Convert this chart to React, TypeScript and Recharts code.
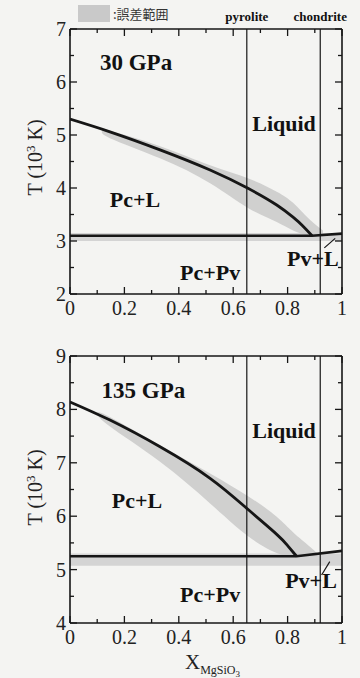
import React from 'react';
import {
  ComposedChart,
  Line,
  Area,
  XAxis,
  YAxis,
  ReferenceLine,
  ReferenceArea,
  ReferenceDot,
} from 'recharts';

const serif = '"Liberation Serif", "Times New Roman", serif';
const ink = '#161616';
const bandFill = '#c9c9c9';

// tick values (minor ticks every 0.1 / 0.5)
const xTicks = [0, 0.1, 0.2, 0.3, 0.4, 0.5, 0.6, 0.7, 0.8, 0.9, 1];
const yTicksTop = [2, 2.5, 3, 3.5, 4, 4.5, 5, 5.5, 6, 6.5, 7];
const yTicksBottom = [4, 4.5, 5, 5.5, 6, 6.5, 7, 7.5, 8, 8.5, 9];

// compositions
const pyrolite = 0.65;
const chondrite = 0.92;

// 30 GPa
const topLiqX = [0, 0.147, 0.331, 0.515, 0.656, 0.76, 0.82, 0.855, 0.89];
const topLiqT = [5.3, 5.06, 4.72, 4.34, 3.99, 3.68, 3.45, 3.29, 3.1];
const topSolX = [0, 0.89, 1];
const topSolT = [3.1, 3.1, 3.14];
const topBandX = [0.12, 0.147, 0.331, 0.515, 0.656, 0.76, 0.82, 0.882, 0.93];
const topBandLo = [5.09, 4.94, 4.56, 4.09, 3.62, 3.36, 3.2, 3.1, 3.1];
const topBandHi = [5.11, 5.08, 4.79, 4.43, 4.18, 3.93, 3.72, 3.4, 3.2];
const topStrip = [3.0, 3.15];
const topPointerX = [0.935, 0.975];
const topPointerT = [2.87, 3.05];

// 135 GPa
const botLiqX = [0, 0.147, 0.331, 0.515, 0.656, 0.76, 0.8, 0.833];
const botLiqT = [8.14, 7.8, 7.3, 6.71, 6.12, 5.66, 5.45, 5.25];
const botSolX = [0, 0.833, 1];
const botSolT = [5.25, 5.25, 5.35];
const botBandX = [0.1, 0.147, 0.331, 0.515, 0.656, 0.76, 0.82, 0.882, 0.91];
const botBandLo = [7.92, 7.68, 7.02, 6.24, 5.62, 5.31, 5.25, 5.25, 5.25];
const botBandHi = [7.94, 7.86, 7.33, 6.8, 6.37, 5.99, 5.7, 5.43, 5.3];
const botStrip = [5.07, 5.3];
const botPointerX = [0.925, 0.955];
const botPointerT = [4.9, 5.15];

const pts = (xs: number[], ts: number[]) => xs.map((x, i) => ({ x, T: ts[i] }));
const band = (xs: number[], lo: number[], hi: number[]) =>
  xs.map((x, i) => ({ x, band: [lo[i], hi[i]] }));

const onStep = (v: number, step: number) => Math.abs(v / step - Math.round(v / step)) < 1e-6;

function BottomTick(props: any) {
  const { x, y, payload } = props;
  const v = payload.value;
  const major = onStep(v, 0.2);
  return (
    <g>
      <line x1={x} y1={y} x2={x} y2={y - (major ? 7 : 4)} stroke={ink} strokeWidth={1.3} />
      {major && (
        <text x={x} y={y + 21} textAnchor="middle" fontSize={20} fontFamily={serif} fill="#222">
          {v === 0 ? '0' : v === 1 ? '1' : v.toFixed(1)}
        </text>
      )}
    </g>
  );
}

function TopTick(props: any) {
  const { x, y, payload } = props;
  const major = onStep(payload.value, 0.2);
  return <line x1={x} y1={y} x2={x} y2={y + (major ? 7 : 4)} stroke={ink} strokeWidth={1.3} />;
}

function LeftTick(props: any) {
  const { x, y, payload } = props;
  const v = payload.value;
  const major = onStep(v, 1);
  return (
    <g>
      <line x1={x} y1={y} x2={x + (major ? 7 : 4)} y2={y} stroke={ink} strokeWidth={1.3} />
      {major && (
        <text x={x - 4} y={y + 7} textAnchor="end" fontSize={20} fontFamily={serif} fill="#222">
          {v}
        </text>
      )}
    </g>
  );
}

function RightTick(props: any) {
  const { x, y, payload } = props;
  const major = onStep(payload.value, 1);
  return <line x1={x} y1={y} x2={x - (major ? 7 : 4)} y2={y} stroke={ink} strokeWidth={1.3} />;
}

const phaseLabel = (value: string, size = 22) => ({
  value,
  position: 'center' as const,
  fontSize: size,
  fontWeight: 700,
  fontFamily: serif,
  fill: '#111',
});

interface PanelProps {
  height: number;
  margin: { top: number; right: number; bottom: number; left: number };
  domain: [number, number];
  yTicks: number[];
  liquidus: { x: number; T: number }[];
  solidus: { x: number; T: number }[];
  errBand: { x: number; band: number[] }[];
  strip: number[];
  pointer: { x: number; T: number }[];
  labels: { text: string; x: number; T: number; size?: number }[];
  showComp: boolean;
}

function Panel(p: PanelProps) {
  const compLabel = (value: string) =>
    p.showComp
      ? { value, position: 'top' as const, offset: 8, fontSize: 13, fontWeight: 700, fontFamily: serif, fill: '#111' }
      : undefined;
  return (
    <ComposedChart width={360} height={p.height} margin={p.margin}>
      <XAxis
        xAxisId="b"
        type="number"
        dataKey="x"
        domain={[0, 1]}
        ticks={xTicks}
        interval={0}
        height={1}
        tickSize={0}
        tickMargin={0}
        tickLine={false}
        tick={<BottomTick />}
        axisLine={{ stroke: ink, strokeWidth: 1.6 }}
        allowDataOverflow
      />
      <XAxis
        xAxisId="t"
        orientation="top"
        type="number"
        dataKey="x"
        domain={[0, 1]}
        ticks={xTicks}
        interval={0}
        height={1}
        tickSize={0}
        tickMargin={0}
        tickLine={false}
        tick={<TopTick />}
        axisLine={{ stroke: ink, strokeWidth: 1.6 }}
        allowDataOverflow
      />
      <YAxis
        yAxisId="l"
        type="number"
        domain={p.domain}
        ticks={p.yTicks}
        interval={0}
        width={1}
        tickSize={0}
        tickMargin={0}
        tickLine={false}
        tick={<LeftTick />}
        axisLine={{ stroke: ink, strokeWidth: 1.6 }}
        allowDataOverflow
      />
      <YAxis
        yAxisId="r"
        orientation="right"
        type="number"
        domain={p.domain}
        ticks={p.yTicks}
        interval={0}
        width={1}
        tickSize={0}
        tickMargin={0}
        tickLine={false}
        tick={<RightTick />}
        axisLine={{ stroke: ink, strokeWidth: 1.6 }}
        allowDataOverflow
      />

      <ReferenceArea
        xAxisId="b"
        yAxisId="l"
        x1={0}
        x2={1}
        y1={p.strip[0]}
        y2={p.strip[1]}
        fill={bandFill}
        fillOpacity={0.75}
        stroke="none"
      />
      <Area
        xAxisId="b"
        yAxisId="l"
        data={p.errBand}
        dataKey="band"
        type="natural"
        fill={bandFill}
        fillOpacity={0.85}
        stroke="none"
        isAnimationActive={false}
        activeDot={false}
      />

      <ReferenceLine xAxisId="b" yAxisId="l" x={pyrolite} stroke={ink} strokeWidth={1.2} label={compLabel('pyrolite')} />
      <ReferenceLine xAxisId="b" yAxisId="l" x={chondrite} stroke={ink} strokeWidth={1.2} label={compLabel('chondrite')} />

      <Line
        xAxisId="b"
        yAxisId="l"
        data={p.solidus}
        dataKey="T"
        type="linear"
        stroke={ink}
        strokeWidth={2.6}
        dot={false}
        activeDot={false}
        isAnimationActive={false}
      />
      <Line
        xAxisId="b"
        yAxisId="l"
        data={p.liquidus}
        dataKey="T"
        type="natural"
        stroke={ink}
        strokeWidth={2.8}
        dot={false}
        activeDot={false}
        isAnimationActive={false}
      />
      <Line
        xAxisId="b"
        yAxisId="l"
        data={p.pointer}
        dataKey="T"
        type="linear"
        stroke={ink}
        strokeWidth={1.2}
        dot={false}
        activeDot={false}
        isAnimationActive={false}
      />

      {p.labels.map((l) => (
        <ReferenceDot
          key={l.text}
          xAxisId="b"
          yAxisId="l"
          x={l.x}
          y={l.T}
          r={1}
          fill="none"
          stroke="none"
          label={phaseLabel(l.text, l.size)}
        />
      ))}
    </ComposedChart>
  );
}

const topLabels = [
  { text: '30 GPa', x: 0.243, T: 6.38, size: 23 },
  { text: 'Liquid', x: 0.787, T: 5.23 },
  { text: 'Pc+L', x: 0.239, T: 3.79 },
  { text: 'Pc+Pv', x: 0.515, T: 2.42 },
  { text: 'Pv+L', x: 0.893, T: 2.68 },
];

const bottomLabels = [
  { text: '135 GPa', x: 0.27, T: 8.36, size: 23 },
  { text: 'Liquid', x: 0.787, T: 7.61 },
  { text: 'Pc+L', x: 0.246, T: 6.3 },
  { text: 'Pc+Pv', x: 0.515, T: 4.54 },
  { text: 'Pv+L', x: 0.886, T: 4.8 },
];

const yLabelStyle: React.CSSProperties = {
  position: 'absolute',
  width: 120,
  textAlign: 'center',
  fontFamily: serif,
  fontSize: 20,
  color: '#222',
  transform: 'rotate(-90deg)',
  whiteSpace: 'nowrap',
};

export default function App() {
  return (
    <div
      style={{
        position: 'absolute',
        left: 0,
        top: 0,
        width: 360,
        height: 678,
        background: '#f4f4f2',
        overflow: 'hidden',
      }}
    >
      {/* legend */}
      <div
        style={{
          position: 'absolute',
          left: 78,
          top: 5,
          width: 32,
          height: 17,
          background: bandFill,
        }}
      />
      <div
        style={{
          position: 'absolute',
          left: 113,
          top: 5,
          fontSize: 13,
          fontFamily: '"Noto Sans CJK JP", sans-serif',
          color: '#333',
          lineHeight: '17px',
        }}
      >
        :誤差範囲
      </div>

      <div style={{ position: 'absolute', left: 0, top: 0 }}>
        <Panel
          height={330}
          margin={{ top: 28, right: 17, bottom: 35, left: 69 }}
          domain={[2, 7]}
          yTicks={yTicksTop}
          liquidus={pts(topLiqX, topLiqT)}
          solidus={pts(topSolX, topSolT)}
          errBand={band(topBandX, topBandLo, topBandHi)}
          strip={topStrip}
          pointer={pts(topPointerX, topPointerT)}
          labels={topLabels}
          showComp
        />
      </div>
      <div style={{ position: 'absolute', left: 0, top: 330 }}>
        <Panel
          height={348}
          margin={{ top: 25, right: 17, bottom: 54, left: 69 }}
          domain={[4, 9]}
          yTicks={yTicksBottom}
          liquidus={pts(botLiqX, botLiqT)}
          solidus={pts(botSolX, botSolT)}
          errBand={band(botBandX, botBandLo, botBandHi)}
          strip={botStrip}
          pointer={pts(botPointerX, botPointerT)}
          labels={bottomLabels}
          showComp={false}
        />
      </div>

      {/* axis titles */}
      <div style={{ ...yLabelStyle, left: -25, top: 145 }}>
        T (10<sup style={{ fontSize: 13 }}>3</sup> K)
      </div>
      <div style={{ ...yLabelStyle, left: -25, top: 475 }}>
        T (10<sup style={{ fontSize: 13 }}>3</sup> K)
      </div>
      <div
        style={{
          position: 'absolute',
          left: 185,
          top: 652,
          fontFamily: serif,
          fontSize: 21,
          lineHeight: '21px',
          color: '#222',
          whiteSpace: 'nowrap',
        }}
      >
        X
        <span style={{ fontSize: 12, position: 'relative', top: 5 }}>
          MgSiO<span style={{ fontSize: 9, position: 'relative', top: 3 }}>3</span>
        </span>
      </div>
    </div>
  );
}
